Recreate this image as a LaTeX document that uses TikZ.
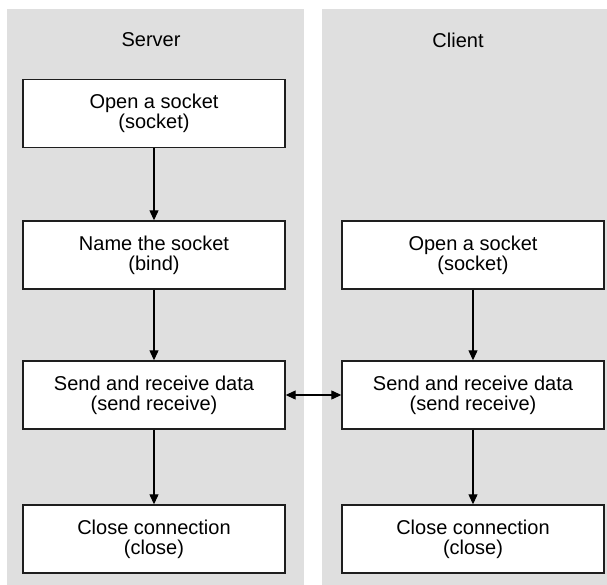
\documentclass[tikz,border=0pt]{standalone}
\usepackage{fontspec}
\setmainfont{Liberation Sans}
\usetikzlibrary{arrows.meta}
\definecolor{panelgray}{RGB}{223,223,223}
\definecolor{edgegray}{RGB}{30,30,30}
\begin{document}
\begin{tikzpicture}[x=1pt,y=-1pt,
  panel/.style={fill=panelgray,draw=none},
  stepbox/.style={draw=edgegray,line width=1.4pt,fill=white,
    minimum height=68pt,inner sep=0pt,align=center,
    font=\fontsize{20}{20}\selectfont},
  title/.style={font=\fontsize{20}{20}\selectfont},
  flow/.style={line width=1.2pt,-{Triangle[width=9pt,length=10pt]}},
  both/.style={line width=1.2pt,{Triangle[width=9pt,length=10pt]}-{Triangle[width=9pt,length=10pt]}}]
  \useasboundingbox (0,0) rectangle (607,585);
  \fill[white] (0,0) rectangle (607,585);

  % two columns
  \path[panel] (7,9) rectangle (304,585);
  \path[panel] (322,9) rectangle (607,585);
  \node[title] (srv) at (151,40) {Server};
  \node[title] (cli) at (458,40) {Client};

  % server column
  \node[stepbox,minimum width=262pt] (s1) at (154,113.5) {Open a socket\\(socket)};
  \node[stepbox,minimum width=262pt] (s2) at (154,255) {Name the socket\\(bind)};
  \node[stepbox,minimum width=262pt] (s3) at (154,395) {Send and receive data\\(send receive)};
  \node[stepbox,minimum width=262pt] (s4) at (154,539) {Close connection\\(close)};

  % client column
  \node[stepbox,minimum width=262pt] (c1) at (473,255) {Open a socket\\(socket)};
  \node[stepbox,minimum width=262pt] (c2) at (473,395) {Send and receive data\\(send receive)};
  \node[stepbox,minimum width=262pt] (c3) at (473,539) {Close connection\\(close)};

  % connectors
  \draw[flow] (s1) -- (s2);
  \draw[flow] (s2) -- (s3);
  \draw[flow] (s3) -- (s4);
  \draw[flow] (c1) -- (c2);
  \draw[flow] (c2) -- (c3);
  \draw[both] (s3) -- (c2);
\end{tikzpicture}
\end{document}
